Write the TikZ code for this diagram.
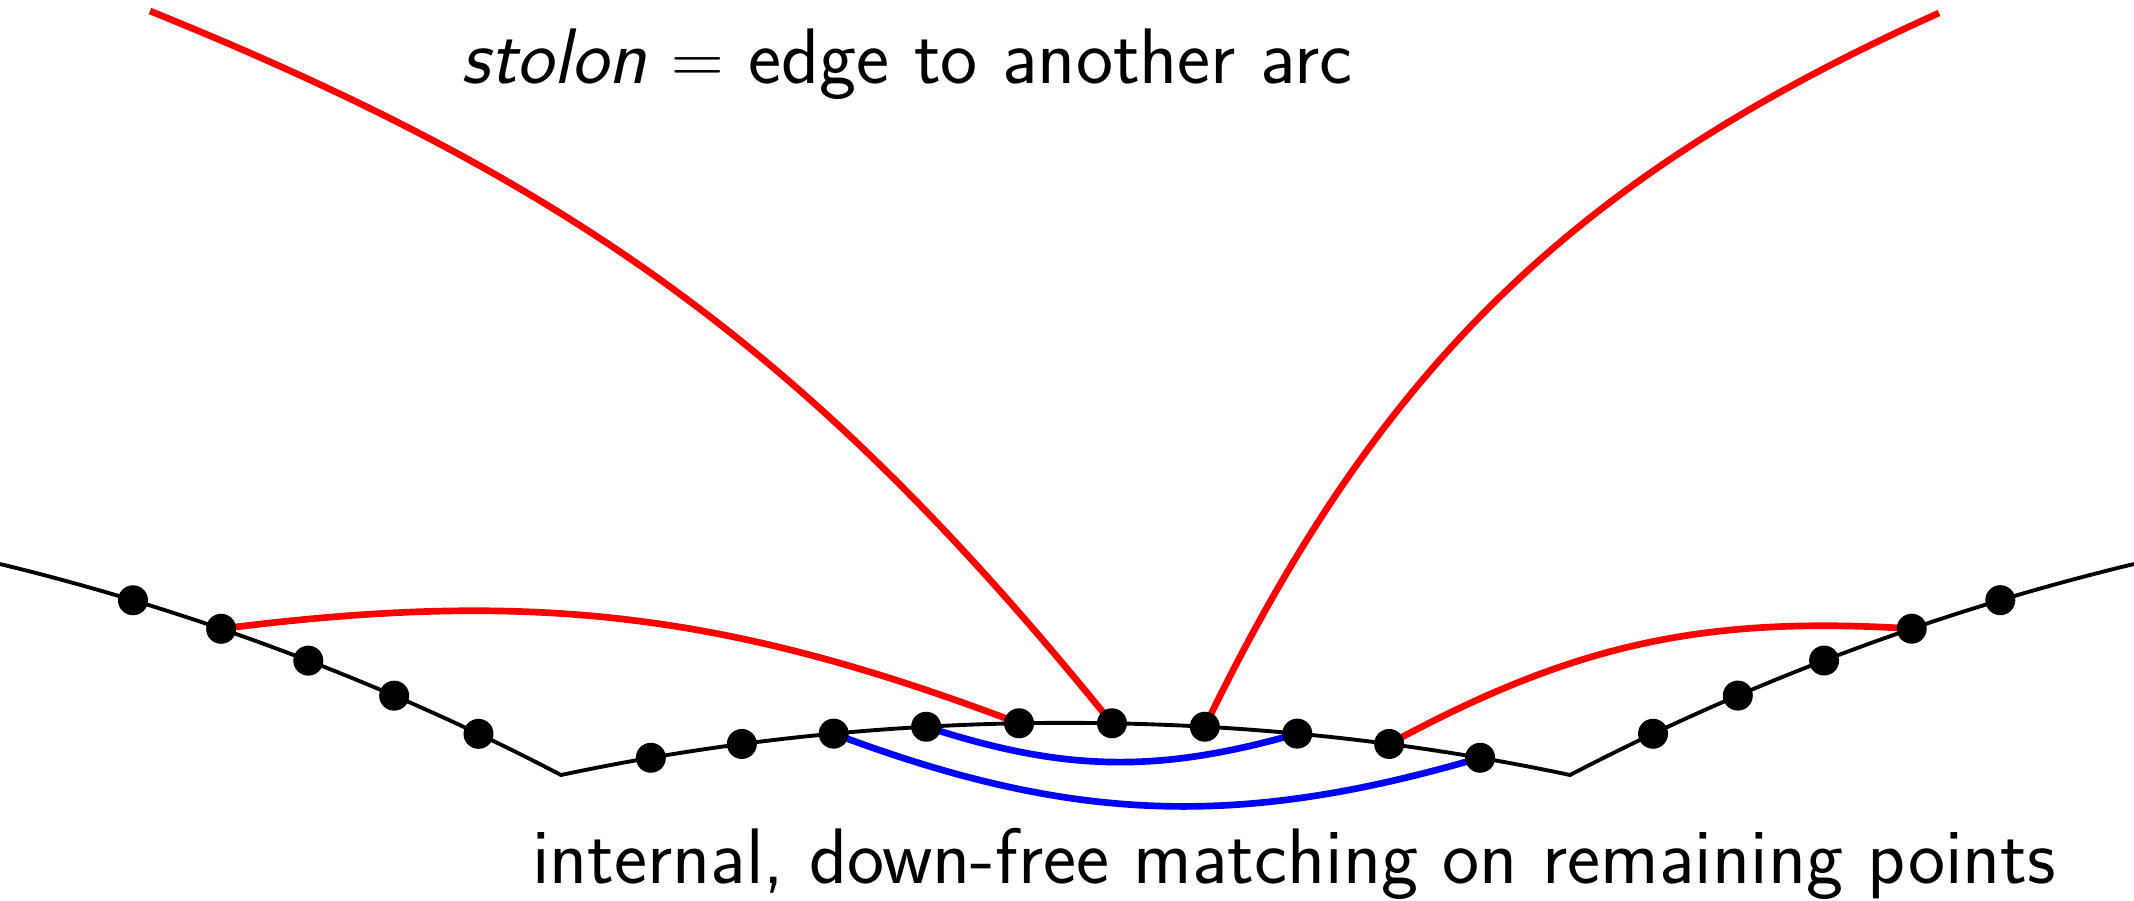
\documentclass[tikz,border=0pt]{standalone}
\usepackage{amsmath,amssymb}
\usepackage{tikz}
\usetikzlibrary{calc}

\tikzset{
  pt/.style={circle,fill=black,inner sep=0pt,minimum size=3mm},
  stolon/.style={red,line width=1.9pt},
  matched/.style={blue,line width=1.9pt},
}

\begin{document}
\begin{tikzpicture}[font=\sffamily\fontsize{22.4}{27}\selectfont]
\useasboundingbox (0,0) rectangle (21.34,9);
% boundary of the arc, with its points
\draw[line width=1.1pt] (0,3.36) to[bend left=7,looseness=0.85]
    coordinate[pos=0.230] (p1) coordinate[pos=0.384] (p2)
    coordinate[pos=0.538] (p3) coordinate[pos=0.692] (p4)
    coordinate[pos=0.846] (p5) (5.61,1.25) coordinate (cL)
  to[bend left=12,looseness=0.85]
    coordinate[pos=1/11] (p6) coordinate[pos=2/11] (p7)
    coordinate[pos=3/11] (p8) coordinate[pos=4/11] (p9)
    coordinate[pos=5/11] (p10) coordinate[pos=6/11] (p11)
    coordinate[pos=7/11] (p12) coordinate[pos=8/11] (p13)
    coordinate[pos=9/11] (p14) coordinate[pos=10/11] (p15)
    (15.70,1.25) coordinate (cR)
  to[bend left=7,looseness=0.85]
    coordinate[pos=0.154] (p16) coordinate[pos=0.308] (p17)
    coordinate[pos=0.462] (p18) coordinate[pos=0.616] (p19)
    coordinate[pos=0.770] (p20) (21.34,3.36);
\coordinate (tl) at (1.50,8.89);
\coordinate (tr) at (19.39,8.87);
% stolons
\draw[stolon] (p2) to[bend left=14] (p10);
\draw[stolon] (tl) to[bend left=14.5] (p11);
\draw[stolon] (p12) to[bend left=20] (tr);
\draw[stolon] (p14) to[bend left=16] (p19);
% internal matching
\draw[matched] (p9) to[bend right=17] (p13);
\draw[matched] (p8) to[bend right=18.5] (p15);
\foreach \i in {1,...,20}
  \node[pt] at (p\i) {};
\node[anchor=base] (lbltop) at (9.07,8.16) {\textsl{stolon} $=$ edge to another arc};
\node[anchor=base] (lblbot) at (12.94,0.17) {internal, down-free matching on remaining points};
\end{tikzpicture}
\end{document}
